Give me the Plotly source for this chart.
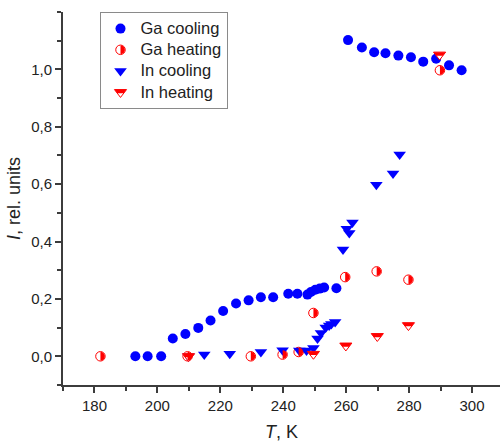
import numpy as np
import plotly.graph_objects as go

# ---- data ----
ga_cool_T = [193.0, 196.9, 201.2, 204.9, 208.9, 213.0, 216.9, 220.9, 225.0, 229.0,
             232.9, 236.8, 241.6, 244.5, 247.7, 248.8, 250.2, 251.6, 253.0, 256.9,
             260.6, 265.0, 268.9, 272.5, 276.6, 280.6, 284.5, 288.6, 292.7, 296.7]
ga_cool_I = [0.0, 0.0, 0.0, 0.062, 0.078, 0.099, 0.125, 0.158, 0.184, 0.195,
             0.206, 0.206, 0.218, 0.218, 0.215, 0.224, 0.232, 0.236, 0.240, 0.237,
             1.102, 1.076, 1.060, 1.056, 1.048, 1.042, 1.027, 1.037, 1.014, 0.997]

ga_heat_T = [181.9, 209.6, 229.7, 239.8, 244.9, 249.6, 259.7, 269.7, 279.8, 289.8]
ga_heat_I = [0.0, 0.0, 0.0, 0.006, 0.015, 0.151, 0.276, 0.296, 0.267, 0.997]

in_cool_T = [209.9, 214.9, 223.0, 232.9, 239.8, 245.1, 247.4, 249.6, 250.9, 252.0,
             253.5, 254.6, 255.3, 256.5, 259.0, 260.2, 261.0, 262.0, 269.6, 274.9, 277.0]
in_cool_I = [0.0, 0.006, 0.009, 0.015, 0.021, 0.020, 0.020, 0.029, 0.062, 0.081,
             0.100, 0.107, 0.113, 0.120, 0.372, 0.445, 0.430, 0.466, 0.598, 0.637, 0.703]

in_heat_T = [209.9, 249.6, 259.9, 269.9, 279.8, 289.7]
in_heat_I = [0.0, 0.008, 0.037, 0.070, 0.108, 1.051]

x_ticks = [180, 200, 220, 240, 260, 280, 300]
y_ticks = [0.0, 0.2, 0.4, 0.6, 0.8, 1.0]
y_labels = ["0,0", "0,2", "0,4", "0,6", "0,8", "1,0"]
legend_names = ["Ga cooling", "Ga heating", "In cooling", "In heating"]

BLUE = "#0000FF"
RED = "#FF0000"
FONT = "Arial, Liberation Sans, sans-serif"

# plot geometry (pixels)
W, H = 500, 442
ML, MR, MT, MB = 63, 0, 12, 57
PW, PH = W - ML - MR, H - MT - MB

GA_COOL_SIZE = 10
GA_HEAT_SIZE = 9.5
IN_COOL_SIZE = 11
IN_HEAT_SIZE = 10.5

LEG_FONT = 14          # controls row spacing
LEG_TEXT_PX = 16.5     # displayed text size


def leg_label(s):
    return f'<span style="font-size:{LEG_TEXT_PX}px">{s}</span>'


def half_circle_path(r, side="right"):
    th = np.linspace(-np.pi / 2, np.pi / 2, 25)
    sgn = 1 if side == "right" else -1
    pts = [(sgn * r * np.cos(t), r * np.sin(t)) for t in th]
    return "M " + " L ".join(f"{x:.2f},{y:.2f}" for x, y in pts) + " Z"


def tri_top_path(size):
    r = size / 2.0
    rt = r * 2 / np.sqrt(3)
    yc = -0.2 * r
    frac = (yc + r) / (1.5 * r)
    return (f"M {-rt:.2f},{r/2:.2f} L {rt:.2f},{r/2:.2f} "
            f"L {rt*frac:.2f},{yc:.2f} L {-rt*frac:.2f},{yc:.2f} Z")


fig = go.Figure()

fig.add_trace(go.Scatter(x=ga_cool_T, y=ga_cool_I, mode="markers", name=leg_label(legend_names[0]),
                         marker=dict(symbol="circle", size=GA_COOL_SIZE, color=BLUE,
                                     line=dict(width=0))))
fig.add_trace(go.Scatter(x=ga_heat_T, y=ga_heat_I, mode="markers", name=leg_label(legend_names[1]),
                         showlegend=False, legendgroup="gah",
                         marker=dict(symbol="circle", size=GA_HEAT_SIZE, color="white",
                                     line=dict(width=1, color=RED))))
fig.add_trace(go.Scatter(x=[None], y=[None], mode="markers", name=leg_label(legend_names[1]),
                         legendgroup="gah",
                         marker=dict(symbol="circle", size=GA_HEAT_SIZE,
                                     color="rgba(255,255,255,0)",
                                     line=dict(width=1, color=RED))))
fig.add_trace(go.Scatter(x=in_cool_T, y=in_cool_I, mode="markers", name=leg_label(legend_names[2]),
                         marker=dict(symbol="triangle-down", size=IN_COOL_SIZE, color=BLUE,
                                     line=dict(width=0))))
fig.add_trace(go.Scatter(x=in_heat_T, y=in_heat_I, mode="markers", name=leg_label(legend_names[3]),
                         showlegend=False, legendgroup="inh",
                         marker=dict(symbol="triangle-down", size=IN_HEAT_SIZE,
                                     color="white", line=dict(width=1, color=RED))))
fig.add_trace(go.Scatter(x=[None], y=[None], mode="markers", name=leg_label(legend_names[3]),
                         legendgroup="inh",
                         marker=dict(symbol="triangle-down", size=IN_HEAT_SIZE,
                                     color="rgba(255,255,255,0)",
                                     line=dict(width=1, color=RED))))

shapes = []
hc = half_circle_path(GA_HEAT_SIZE / 2.0 - 0.4, "right")
for t, i in zip(ga_heat_T, ga_heat_I):
    shapes.append(dict(type="path", xref="x", yref="y", xsizemode="pixel",
                       ysizemode="pixel", xanchor=t, yanchor=i, path=hc,
                       fillcolor=RED, line=dict(width=0), layer="above"))
tp = tri_top_path(IN_HEAT_SIZE)
for t, i in zip(in_heat_T, in_heat_I):
    shapes.append(dict(type="path", xref="x", yref="y", xsizemode="pixel",
                       ysizemode="pixel", xanchor=t, yanchor=i, path=tp,
                       fillcolor=RED, line=dict(width=0), layer="above"))

# legend geometry
LEG_X_PX, LEG_Y_PX = 99.5, 12
leg_x = (LEG_X_PX - ML) / PW
leg_y = (H - MB - LEG_Y_PX) / PH
item_h = LEG_FONT * 1.3 + 3
sym_x_px = LEG_X_PX + 21
row_y_px = [LEG_Y_PX + 1 + 5 + item_h / 2 + item_h * k for k in range(4)]
shapes.append(dict(type="path", xref="paper", yref="paper", xsizemode="pixel",
                   ysizemode="pixel", xanchor=(sym_x_px - ML) / PW,
                   yanchor=(H - MB - row_y_px[1]) / PH, path=hc,
                   fillcolor=RED, line=dict(width=0), layer="above"))
shapes.append(dict(type="path", xref="paper", yref="paper", xsizemode="pixel",
                   ysizemode="pixel", xanchor=(sym_x_px - ML) / PW,
                   yanchor=(H - MB - row_y_px[3]) / PH, path=tp,
                   fillcolor=RED, line=dict(width=0), layer="above"))

axis_common = dict(showline=True, linecolor="#3c3c3c", linewidth=2, mirror=False,
                   ticks="outside", ticklen=6, tickwidth=1.5, tickcolor="#3c3c3c",
                   showgrid=False, zeroline=False,
                   tickfont=dict(family=FONT, size=15, color="#222"),
                   minor=dict(ticks="outside", ticklen=4, tickwidth=1.5,
                              tickcolor="#3c3c3c", showgrid=False))

fig.update_layout(
    width=W, height=H,
    margin=dict(l=ML, r=MR, t=MT, b=MB),
    plot_bgcolor="white", paper_bgcolor="white",
    showlegend=True,
    legend=dict(x=leg_x, y=leg_y, xanchor="left", yanchor="top",
                bgcolor="rgba(255,255,255,0)", bordercolor="#8a8a8a", borderwidth=1,
                font=dict(family=FONT, size=LEG_FONT, color="#222"),
                tracegroupgap=0, itemsizing="trace"),
    shapes=shapes,
)
fig.update_xaxes(range=[170, 308.9], tickmode="array", tickvals=x_ticks,
                 minor_dtick=10, minor_tick0=170,
                 title=dict(text="<i>T</i>, K", font=dict(family=FONT, size=18, color="#222"),
                            standoff=12),
                 **axis_common)
fig.update_yaxes(range=[-0.1, 1.2], tickmode="array", tickvals=y_ticks, ticktext=y_labels,
                 minor_dtick=0.1, minor_tick0=0,
                 title=dict(text="<i>I</i>, rel. units", font=dict(family=FONT, size=18, color="#222"),
                            standoff=6),
                 **axis_common)

fig.write_html("out.html", config={"displayModeBar": False},
               post_script="document.body.style.margin='0';")
